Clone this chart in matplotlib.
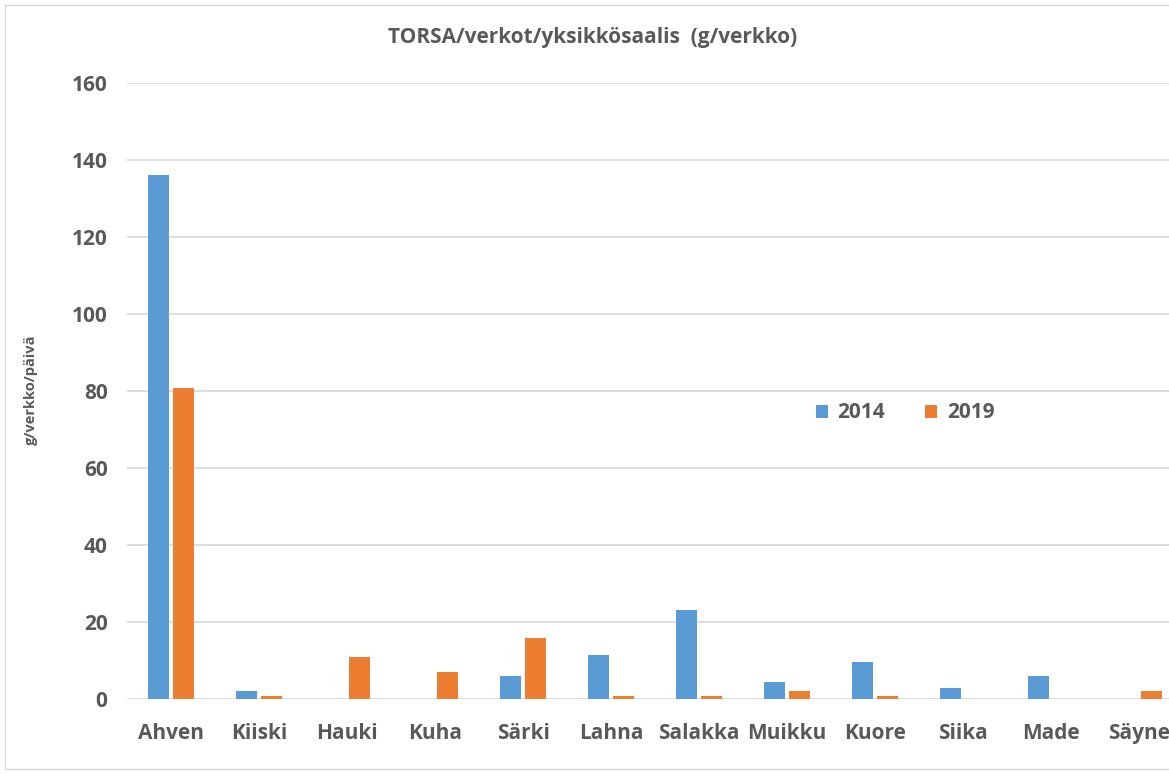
import numpy as np
import matplotlib
matplotlib.use("Agg")
from matplotlib import pyplot as plt
from matplotlib.patches import Rectangle

species = ["Ahven", "Kiiski", "Hauki", "Kuha", "Särki", "Lahna", "Salakka",
           "Muikku", "Kuore", "Siika", "Made", "Säyne"]
catch_2014 = [136.0, 2.1, 0.0, 0.1, 6.0, 11.4, 23.1, 4.5, 9.6, 2.9, 6.0, 0.0]
catch_2019 = [80.8, 0.8, 10.8, 7.1, 15.8, 0.8, 0.8, 2.1, 0.8, 0.0, 0.0, 2.1]
yticks = [0, 20, 40, 60, 80, 100, 120, 140, 160]

plt.rcParams['font.family'] = ['Open Sans', 'DejaVu Sans']
grey = '#595959'

fig = plt.figure(figsize=(11.69, 7.74), dpi=100)
W, H = 1169, 774
ax = fig.add_axes([127 / W, 75 / H, 1056 / W, 616 / H])

x = np.arange(len(species))
w = 0.24
ax.bar(x - 0.145, catch_2014, w, color='#5B9BD5', label='2014', zorder=3)
ax.bar(x + 0.145, catch_2019, w, color='#ED7D31', label='2019', zorder=3)

ax.set_xlim(-0.5, len(species) - 0.5)
ax.set_ylim(0, 160)
ax.set_yticks(yticks)
ax.set_xticks(x)
ax.set_xticklabels(species)
ax.yaxis.grid(True, color='#d9d9d9', linewidth=1.2, zorder=0)
ax.set_axisbelow(True)
for s in ax.spines.values():
    s.set_visible(False)
ax.tick_params(length=0, labelsize=15, labelcolor=grey)
ax.tick_params(axis='x', pad=17)
ax.tick_params(axis='y', pad=14)
for lab in ax.get_xticklabels() + ax.get_yticklabels():
    lab.set_fontweight('bold')

fig.text(31 / W, 1 - 390 / H, 'g/verkko/päivä', rotation=90, ha='center', va='center',
         fontsize=10.5, fontweight='bold', color=grey)
fig.text(593 / W, 1 - 37 / H, 'TORSA/verkot/yksikkösaalis  (g/verkko)', ha='center', va='center',
         fontsize=15, fontweight='bold', color=grey)

leg = fig.legend(loc='center left', bbox_to_anchor=(797 / W, 1 - 413 / H), ncol=2,
                 frameon=False, fontsize=15, handlelength=0.6, handleheight=0.6,
                 columnspacing=1.9, handletextpad=0.45)
for t in leg.get_texts():
    t.set_color(grey)
    t.set_fontweight('bold')

fig.patches.append(Rectangle((5 / W, 5 / H), 1.2, 764 / H, transform=fig.transFigure,
                             fill=False, edgecolor='#d9d9d9', linewidth=1))

fig.savefig('out.png', dpi=100)
